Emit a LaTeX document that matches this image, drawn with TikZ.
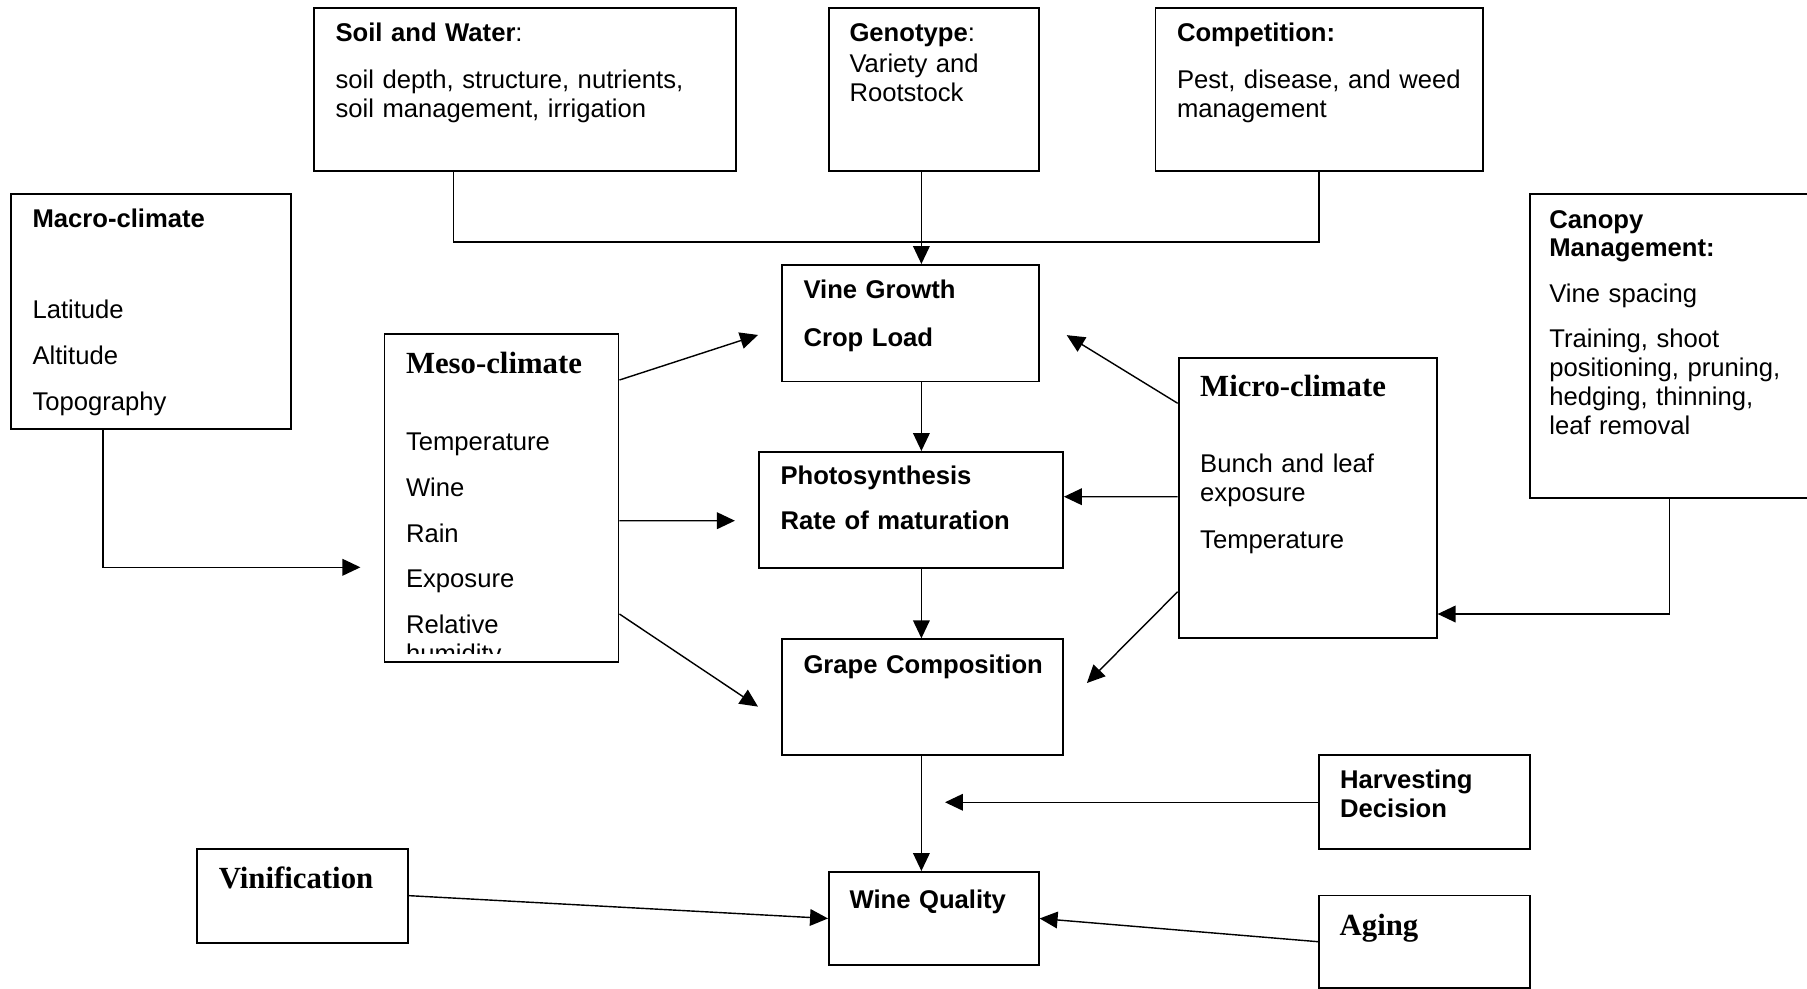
\documentclass[tikz,border=0pt]{standalone}
\usepackage{fontspec}
\setmainfont{Liberation Sans}
\newfontfamily\tnrfont{Liberation Serif}
\usepackage{tikz}
\usetikzlibrary{calc,arrows.meta}

% one picture pixel
\newcommand{\pxu}{0.39pt}
% serif headings
\newcommand{\hdserif}[1]{{\tnrfont\bfseries\fontsize{12}{11.3}\selectfont #1}}

\begin{document}
\begin{tikzpicture}[x=0.39pt,y=-0.39pt,>={Triangle[length=7pt,width=6.5pt]},
    blk/.style={draw,line width=0.75pt,inner sep=0pt,anchor=north west},
    txt/.style={anchor=base west,inner sep=0pt,text width=220pt,align=left,
                font={\fontsize{10}{11.3}\selectfont}},
    con/.style={line width=0.55pt},
    arr/.style={con,->}]

    \useasboundingbox (0,0) rectangle (1807,989);

    % Boxes
    \node[blk,minimum width=422*\pxu,minimum height=163*\pxu] (soil)    at (313,7) {};
    \node[blk,minimum width=209.7*\pxu,minimum height=163*\pxu] (geno)  at (828,7) {};
    \node[blk,minimum width=327.4*\pxu,minimum height=163*\pxu] (comp)  at (1154.5,7) {};
    \node[blk,minimum width=280*\pxu,minimum height=235*\pxu] (macro)   at (10,193) {};
    \node[blk,minimum width=306*\pxu,minimum height=304*\pxu] (canopy)  at (1528.8,193) {};
    \node[blk,minimum width=256.7*\pxu,minimum height=116.5*\pxu] (vine) at (781,264) {};
    \node[blk,minimum width=234*\pxu,minimum height=328*\pxu] (meso)    at (383.5,333.3) {};
    \node[blk,minimum width=258*\pxu,minimum height=280*\pxu] (micro)   at (1177.7,357.3) {};
    \node[blk,minimum width=304*\pxu,minimum height=116*\pxu] (photo)   at (758,451) {};
    \node[blk,minimum width=281*\pxu,minimum height=116*\pxu] (grape)   at (781,638.3) {};
    \node[blk,minimum width=210.6*\pxu,minimum height=94*\pxu] (harvest) at (1318.2,754.3) {};
    \node[blk,minimum width=211*\pxu,minimum height=94*\pxu]  (vinif)   at (196.3,847.7) {};
    \node[blk,minimum width=209.7*\pxu,minimum height=93*\pxu] (wine)   at (828,871) {};
    \node[blk,minimum width=210.8*\pxu,minimum height=92.5*\pxu] (aging) at (1318.2,894.5) {};

    % Texts
    \node[txt] (soiltxt) at ($(soil.north west)+(22,34)$)
      {\textbf{Soil and Water}:\\[7.3pt] soil depth, structure, nutrients,\\ soil management, irrigation};
    \node[txt] (genotxt) at ($(geno.north west)+(21,34)$)
      {\textbf{Genotype}:\\[0.8pt] Variety and\\ Rootstock};
    \node[txt] (comptxt) at ($(comp.north west)+(22,34)$)
      {\textbf{Competition:}\\[7.3pt] Pest, disease, and weed\\ management};
    \node[txt] (macrotxt) at ($(macro.north west)+(22,34.4)$)
      {\textbf{Macro-climate}\\[24.4pt] Latitude\\[6.5pt] Altitude\\[6.5pt] Topography};
    \node[txt] (canopytxt) at ($(canopy.north west)+(20,35)$)
      {\textbf{Canopy}\\ \textbf{Management:}\\[6.5pt] Vine spacing\\[6.3pt] Training, shoot\\
       positioning, pruning,\\ hedging, thinning,\\ leaf removal};
    \node[txt] (vinetxt) at ($(vine.north west)+(22,34.3)$)
      {\textbf{Vine Growth}\\[7.3pt] \textbf{Crop Load}};
    \begin{scope}
      \clip (meso.north west) rectangle ($(meso.south east)+(0,-10)$);
      \node[txt] (mesotxt) at ($(meso.north west)+(22,40)$)
        {\hdserif{Meso-climate}\\[18.9pt] Temperature\\[6.5pt] Wine\\[6.5pt] Rain\\[6.5pt]
         Exposure\\[6.5pt] Relative\\ humidity};
    \end{scope}
    \node[txt] (microtxt) at ($(micro.north west)+(22,39.4)$)
      {\hdserif{Micro-climate}\\[18.3pt] Bunch and leaf\\ exposure\\[6.9pt] Temperature};
    \node[txt] (phototxt) at ($(photo.north west)+(22,33)$)
      {\textbf{Photosynthesis}\\[6.6pt] \textbf{Rate of maturation}};
    \node[txt] (grapetxt) at ($(grape.north west)+(22,35)$) {\textbf{Grape Composition}};
    \node[txt] (harvtxt) at ($(harvest.north west)+(21.4,34)$)
      {\textbf{Harvesting}\\ \textbf{Decision}};
    \node[txt] (viniftxt) at ($(vinif.north west)+(22,40.6)$) {\hdserif{Vinification}};
    \node[txt] (winetxt) at ($(wine.north west)+(21,37.3)$) {\textbf{Wine Quality}};
    \node[txt] (agingtxt) at ($(aging.north west)+(21,40.5)$) {\hdserif{Aging}};

    % Main chain
    \coordinate (spine) at (921.4,0);
    \coordinate (soilout) at ($(soil.south west)+(140.5,0)$);
    \draw[con] (soilout) -- ++(0,70) -| (comp.south);
    \draw[arr] (geno.south -| spine) -- (vine.north -| spine);
    \draw[arr] (vine.south -| spine) -- (photo.north -| spine);
    \draw[arr] (photo.south -| spine) -- (grape.north -| spine);
    \draw[arr] (grape.south -| spine) -- (wine.north -| spine);

    % Macro- and meso-climate
    \coordinate (macroout) at ($(macro.south west)+(93,0)$);
    \draw[arr,shorten >=9pt] (macroout) |- ($(meso.north west)+(0,234)$);
    \draw[arr,shorten >=9.4pt] ($(meso.north east)+(0,46.7)$) -- ($(vine.north west)+(0,63.5)$);
    \draw[arr,shorten >=9pt] ($(meso.north east)+(0,187.4)$) -- ($(photo.north west)+(0,69.7)$);
    \draw[arr,shorten >=10.8pt] ($(meso.north east)+(0,280.7)$) -- ($(grape.north west)+(0,83.7)$);

    % Micro-climate and canopy
    \draw[arr,shorten >=12.4pt] ($(micro.north west)+(0,46)$) -- ($(vine.north east)+(0,54.5)$);
    \draw[arr] ($(micro.north west)+(0,139.4)$) -- ($(photo.north east)+(0,45.7)$);
    \draw[arr,shorten >=12.7pt] ($(micro.north west)+(0,234.4)$) -- ($(grape.north east)+(0,67.8)$);
    \coordinate (canopyout) at ($(canopy.south west)+(140.5,0)$);
    \draw[arr] (canopyout) |- ($(micro.north east)+(0,256.7)$);

    % Harvest, vinification, aging
    \draw[arr,shorten >=9.2pt] (harvest.west) -- (harvest.west -| spine);
    \draw[arr] (vinif.east) -- (wine.west);
    \draw[arr] (aging.west) -- (wine.east);

\end{tikzpicture}
\end{document}
